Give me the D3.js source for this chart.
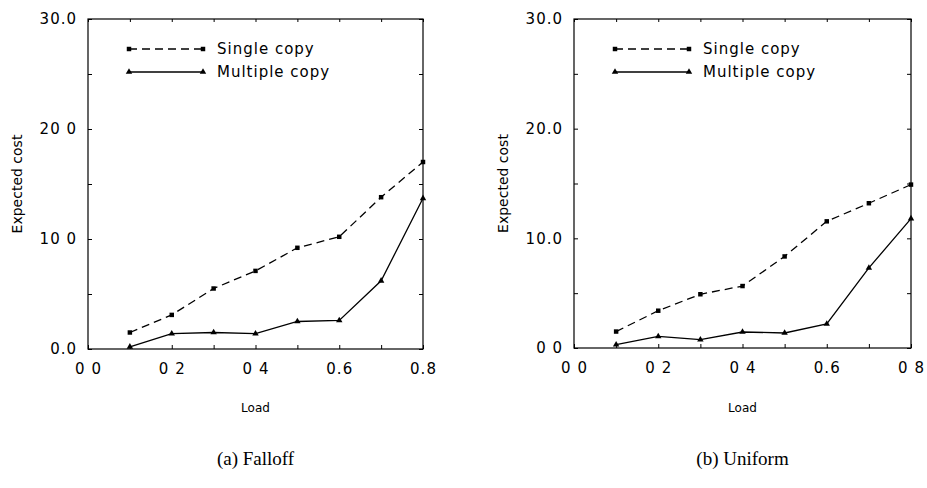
<!DOCTYPE html>
<html>
<head>
<meta charset="utf-8">
<script src="https://cdn.jsdelivr.net/npm/d3@7"></script>
<style>
  body { margin: 0; background: #fff; }
  svg { display: block; }
  .tick text { font-family: "DejaVu Sans", sans-serif; }
</style>
</head>
<body>
<div id="chart"></div>
<script>
// load values on the x axis
const loads = [0.1, 0.2, 0.3, 0.4, 0.5, 0.6, 0.7, 0.8];

// (a) Falloff
const falloffSingle = [1.5, 3.1, 5.5, 7.1, 9.2, 10.2, 13.8, 17.0];
const falloffMultiple = [0.2, 1.4, 1.5, 1.4, 2.5, 2.6, 6.2, 13.7];

// (b) Uniform
const uniformSingle = [1.5, 3.4, 4.9, 5.65, 8.35, 11.55, 13.2, 14.9];
const uniformMultiple = [0.3, 1.06, 0.76, 1.46, 1.37, 2.2, 7.3, 11.8];

// tick labels as printed in the figure
const xTicks = [0, 0.2, 0.4, 0.6, 0.8];
const yTicks = [0, 10, 20, 30];
const xTickLabelsA = ['0 0', '0 2', '0 4', '0.6', '0.8'];
const yTickLabelsA = ['0.0', '10 0', '20 0', '30.0'];
const xTickLabelsB = ['0 0', '0 2', '0 4', '0.6', '0 8'];
const yTickLabelsB = ['0 0', '10.0', '20.0', '30.0'];

const seriesNames = ['Single copy', 'Multiple copy'];
const captions = ['(a) Falloff', '(b) Uniform'];

const width = 927, height = 488;

const svg = d3.select('#chart').append('svg')
    .attr('width', width)
    .attr('height', height);

const drawPanel = (opts) => {
    const x = d3.scaleLinear().domain([0, 0.8]).range([opts.left, opts.right]);
    const y = d3.scaleLinear().domain([0, 30]).range([opts.bottom, opts.top]);
    const g = svg.append('g');

    // frame
    g.append('rect')
        .attr('x', x(0)).attr('y', y(30))
        .attr('width', x(0.8) - x(0)).attr('height', y(0) - y(30))
        .attr('fill', 'none').attr('stroke', '#000').attr('stroke-width', 1.2);

    const xMinor = d3.range(0, 9).map(i => i / 10);
    const yMinor = d3.range(0, 7).map(i => i * 5);

    // inward ticks, no labels
    const tickAxis = (axis, tr) => {
        const a = g.append('g').attr('transform', tr).call(axis);
        a.select('.domain').remove();
        a.selectAll('text').remove();
        a.selectAll('line').attr('stroke', '#000');
        return a;
    };
    tickAxis(d3.axisBottom(x).tickValues(xMinor).tickSizeInner(-4).tickSizeOuter(0), `translate(0,${y(0)})`);
    tickAxis(d3.axisTop(x).tickValues(xMinor).tickSizeInner(-3).tickSizeOuter(0), `translate(0,${y(30)})`);
    tickAxis(d3.axisLeft(y).tickValues(yMinor).tickSizeInner(-4).tickSizeOuter(0), `translate(${x(0)},0)`);
    tickAxis(d3.axisRight(y).tickValues(yMinor).tickSizeInner(-4).tickSizeOuter(0), `translate(${x(0.8)},0)`);

    // labels
    const xl = g.append('g').attr('transform', `translate(0,${y(0)})`)
        .call(d3.axisBottom(x).tickValues(xTicks).tickSize(0).tickPadding(14)
            .tickFormat((d, i) => opts.xLabels[i]));
    xl.select('.domain').remove();
    xl.selectAll('text').attr('font-size', 15).attr('letter-spacing', 1).attr('fill', '#000');

    const yl = g.append('g').attr('transform', `translate(${x(0)},0)`)
        .call(d3.axisLeft(y).tickValues(yTicks).tickSize(0).tickPadding(11)
            .tickFormat((d, i) => opts.yLabels[i]));
    yl.select('.domain').remove();
    yl.selectAll('text').attr('font-size', 15).attr('letter-spacing', 1).attr('fill', '#000');

    // axis titles
    const cx = (x(0) + x(0.8)) / 2;
    g.append('text')
        .attr('x', cx).attr('y', 412)
        .attr('text-anchor', 'middle')
        .style('font-family', '"DejaVu Sans", sans-serif')
        .style('font-size', '12px')
        .text('Load');
    g.append('text')
        .attr('transform', `translate(${opts.left - 71},${(y(0) + y(30)) / 2}) rotate(-90)`)
        .attr('text-anchor', 'middle')
        .attr('dy', '0.35em')
        .style('font-family', '"DejaVu Sans", sans-serif')
        .style('font-size', '14px')
        .text('Expected cost');

    g.append('text')
        .attr('x', cx).attr('y', 465)
        .attr('text-anchor', 'middle')
        .style('font-family', '"Liberation Serif", serif')
        .style('font-size', '19px')
        .text(opts.caption);

    const line = d3.line().x(d => x(d[0])).y(d => y(d[1]));
    const series = [
        { name: seriesNames[0], values: opts.single, dash: '8,5', marker: 'square' },
        { name: seriesNames[1], values: opts.multiple, dash: null, marker: 'triangle' }
    ];

    const symbolFor = m => d3.symbol().type(m === 'square' ? d3.symbolSquare : d3.symbolTriangle)
        .size(m === 'square' ? 20 : 18);

    series.forEach((s, si) => {
        const pts = loads.map((l, i) => [l, s.values[i]]);
        g.append('path')
            .datum(pts)
            .attr('d', line)
            .attr('fill', 'none')
            .attr('stroke', '#000')
            .attr('stroke-width', 1.3)
            .attr('stroke-dasharray', s.dash);
        g.selectAll(null).data(pts).enter().append('path')
            .attr('transform', d => `translate(${x(d[0])},${y(d[1])})`)
            .attr('d', symbolFor(s.marker))
            .attr('fill', '#000');

        // legend entry
        const ly = opts.legendY + si * 23;
        g.append('line')
            .attr('x1', opts.legendX).attr('x2', opts.legendX + 74)
            .attr('y1', ly).attr('y2', ly)
            .attr('stroke', '#000').attr('stroke-width', 1.3)
            .attr('stroke-dasharray', s.dash);
        [opts.legendX, opts.legendX + 74].forEach(px => {
            g.append('path')
                .attr('transform', `translate(${px},${ly})`)
                .attr('d', symbolFor(s.marker))
                .attr('fill', '#000');
        });
        g.append('text')
            .attr('x', opts.legendX + 88).attr('y', ly)
            .attr('dy', '0.35em')
            .attr('letter-spacing', 1)
            .style('font-family', '"DejaVu Sans", sans-serif')
            .style('font-size', '15px')
            .text(s.name);
    });
};

drawPanel({
    left: 88, right: 423, top: 19, bottom: 349,
    single: falloffSingle, multiple: falloffMultiple,
    xLabels: xTickLabelsA, yLabels: yTickLabelsA,
    legendX: 129, legendY: 49, caption: captions[0]
});

drawPanel({
    left: 574, right: 911, top: 19, bottom: 348,
    single: uniformSingle, multiple: uniformMultiple,
    xLabels: xTickLabelsB, yLabels: yTickLabelsB,
    legendX: 615, legendY: 49, caption: captions[1]
});
</script>
</body>
</html>
